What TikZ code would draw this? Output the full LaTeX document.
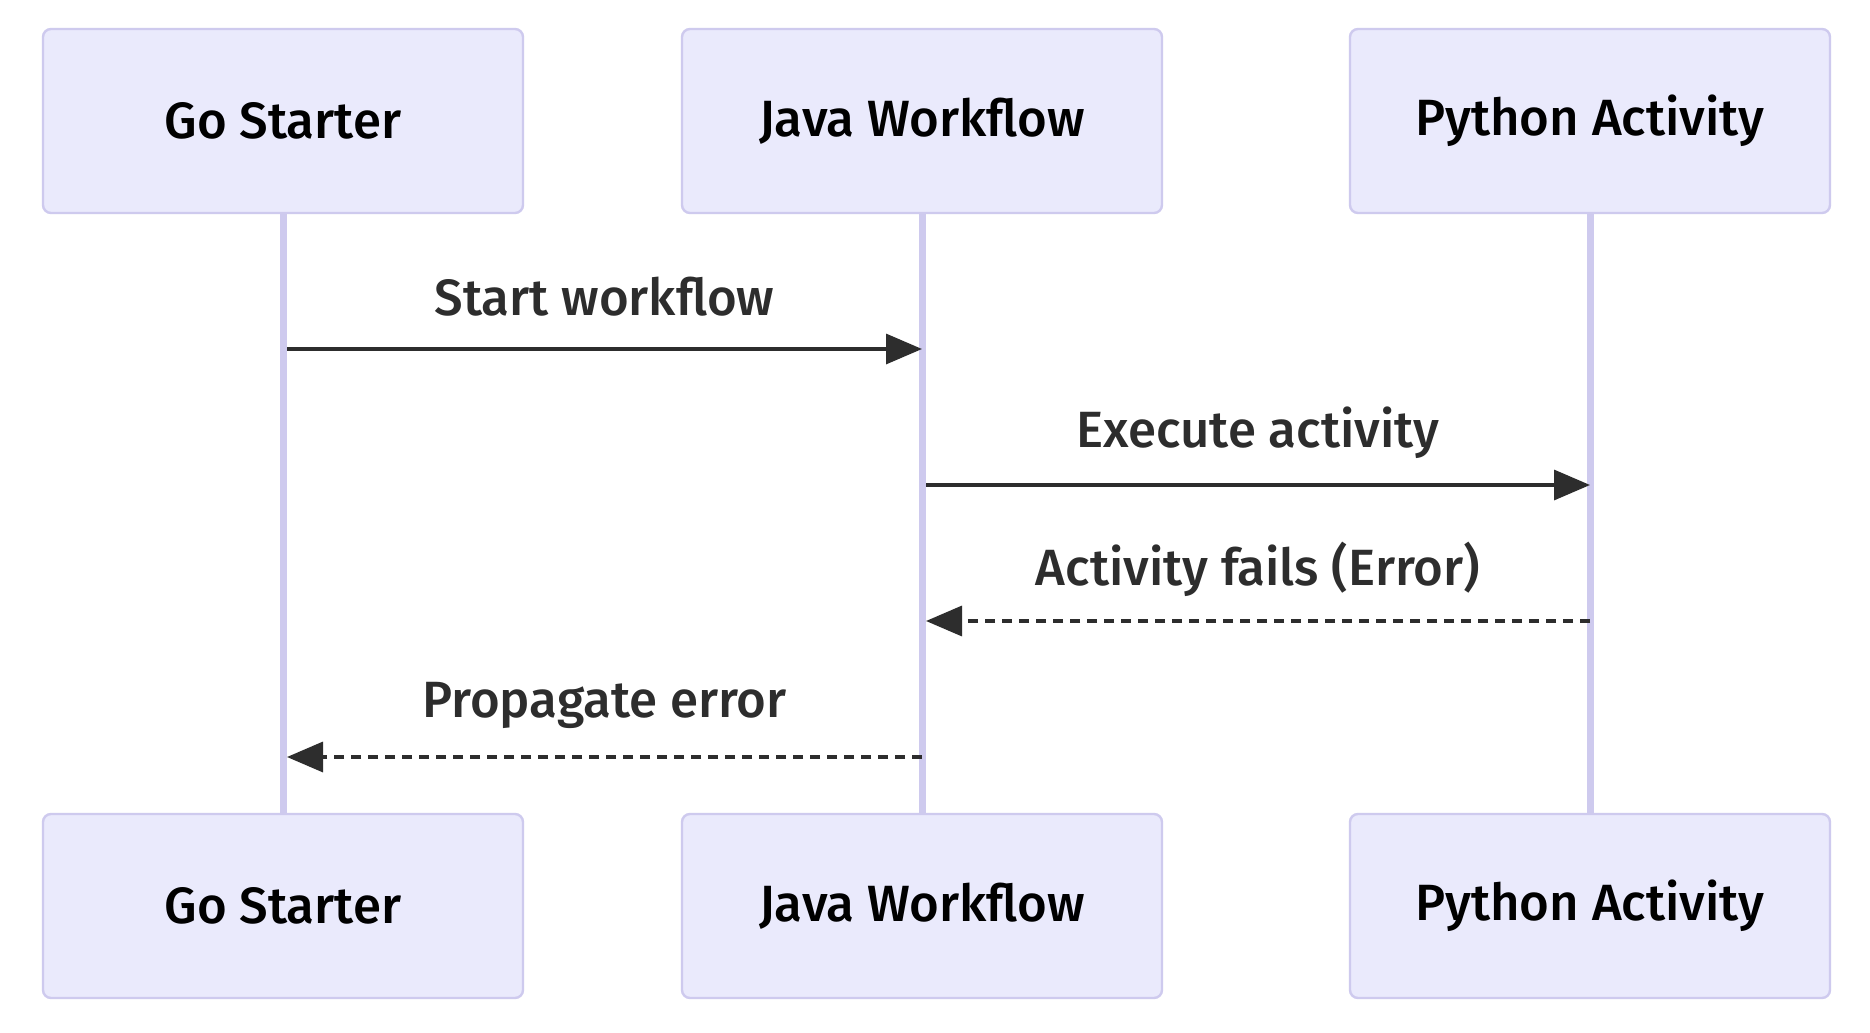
\documentclass[tikz,border=0pt]{standalone}
\usepackage{fontspec}
\setmainfont{Fira Sans}[UprightFont=* Medium]
\usepackage{tikz}
\usetikzlibrary{positioning,arrows.meta}
\definecolor{ActorFill}{RGB}{234, 234, 252}
\definecolor{ActorLine}{RGB}{206, 202, 238}
\definecolor{Ink}{RGB}{45, 45, 45}

\begin{document}
\begin{tikzpicture}[x=0.5pt,y=-0.5pt,
    actor/.style={draw=ActorLine,fill=ActorFill,line width=1.2pt,rounded corners=4pt,
      minimum width=240pt,minimum height=92pt,font=\fontsize{25.5}{30}\selectfont,text=black},
    lifeline/.style={ActorLine,line width=3.5pt},
    msg/.style={Ink,line width=1.7pt,-{Triangle[length=18pt,width=15pt]}},
    reply/.style={msg,dash pattern=on 5pt off 3.5pt},
    msglabel/.style={midway,yshift=26pt,text=Ink,font=\fontsize{25.5}{30}\selectfont}]
        \useasboundingbox[fill=white] (0,0) rectangle (1870,1033);
        % actors, top and bottom
        \node[actor] (goTop) at (283,121) {Go Starter};
        \node[actor] (javaTop) at (922,121) {Java Workflow};
        \node[actor] (pyTop) at (1590,121) {Python Activity};
        \node[actor] (goBot) at (283,906) {Go Starter};
        \node[actor] (javaBot) at (922,906) {Java Workflow};
        \node[actor] (pyBot) at (1590,906) {Python Activity};
        \foreach \a in {go,java,py} {
          \draw[lifeline] (\a Top.south) -- (\a Bot.north);
        }
        % points where the messages meet the lifelines
        \coordinate (goA) at (287,349);
        \coordinate (javaA) at (922,349);
        \coordinate (javaB) at (926,485);
        \coordinate (pyB) at (1590,485);
        \coordinate (pyC) at (1590,621);
        \coordinate (javaC) at (926,621);
        \coordinate (javaD) at (922,757);
        \coordinate (goD) at (287,757);
        \draw[msg] (goA) -- node[msglabel] {Start workflow} (javaA);
        \draw[msg] (javaB) -- node[msglabel] {Execute activity} (pyB);
        \draw[reply] (pyC) -- node[msglabel] {Activity fails (Error)} (javaC);
        \draw[reply] (javaD) -- node[msglabel] {Propagate error} (goD);
      \end{tikzpicture}
\end{document}
